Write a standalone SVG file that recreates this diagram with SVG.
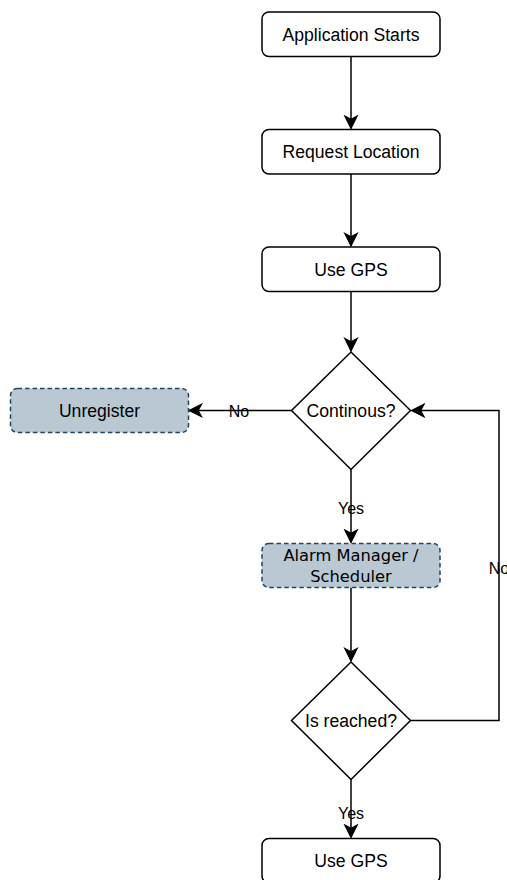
<svg xmlns="http://www.w3.org/2000/svg" width="507" height="880" viewBox="0 0 507 880">
<style>
.box{fill:#ffffff;stroke:#000000;stroke-width:1.5}
.alt{fill:#bac8d3;stroke:#23445d;stroke-width:1.5;stroke-dasharray:4.5 3}
.t{font-family:"Liberation Sans",Arial,sans-serif;font-size:17.6px;fill:#000;text-anchor:middle}
.d{font-family:"DejaVu Sans",sans-serif;font-size:16.3px;fill:#000;text-anchor:middle}
.lbl{font-family:"Liberation Sans",Arial,sans-serif;font-size:16px;fill:#000;text-anchor:middle}
.c{fill:none;stroke:#000;stroke-width:1.5}
</style>
<defs>
<marker id="arr" markerUnits="userSpaceOnUse" markerWidth="16" markerHeight="16" refX="12" refY="6" orient="auto" viewBox="0 0 14 12">
<path d="M12,6 L1,0.5 L4,6 L1,11.5 Z" fill="#000" stroke="#000" stroke-width="1"/>
</marker>
</defs>
<rect width="507" height="880" fill="#ffffff"/>
<g id="connectors">
<path class="c" d="M351,56.5 V128.5" marker-end="url(#arr)"/>
<path class="c" d="M351,174 V246" marker-end="url(#arr)"/>
<path class="c" d="M351,291.5 V351" marker-end="url(#arr)"/>
<path class="c" d="M291.5,410.5 H189" marker-end="url(#arr)"/>
<path class="c" d="M351,469.5 V542.5" marker-end="url(#arr)"/>
<path class="c" d="M351,587.5 V661" marker-end="url(#arr)"/>
<path class="c" d="M410.5,720.5 H499 V410.5 H411.5" marker-end="url(#arr)"/>
<path class="c" d="M351,779.5 V837.5" marker-end="url(#arr)"/>
<text class="lbl" x="239" y="416.5">No</text>
<text class="lbl" x="351" y="514">Yes</text>
<text class="lbl" x="499" y="574">No</text>
<text class="lbl" x="351" y="819">Yes</text>
</g>
<g id="app-starts">
<rect class="box" x="262" y="12" width="178" height="44.5" rx="7"/>
<text class="t" x="351" y="40.5">Application Starts</text>
</g>
<g id="request-location">
<rect class="box" x="262" y="129.5" width="178" height="44.5" rx="7"/>
<text class="t" x="351" y="158">Request Location</text>
</g>
<g id="use-gps-1">
<rect class="box" x="262" y="247" width="178" height="44.5" rx="7"/>
<text class="t" x="351" y="275.5">Use GPS</text>
</g>
<g id="continous">
<path class="box" d="M351,352 L410.5,410.5 L351,469.5 L291.5,410.5 Z"/>
<text class="t" x="351" y="416.5">Continous?</text>
</g>
<g id="unregister">
<rect class="alt" x="10.5" y="388.5" width="178" height="44" rx="7"/>
<text class="t" x="99.5" y="416.5">Unregister</text>
</g>
<g id="alarm-manager">
<rect class="alt" x="262" y="543.5" width="178" height="44" rx="7"/>
<text class="d" x="351" y="561">Alarm Manager /</text>
<text class="d" x="351" y="582">Scheduler</text>
</g>
<g id="is-reached">
<path class="box" d="M351,662 L410.5,720.5 L351,779.5 L291.5,720.5 Z"/>
<text class="t" x="351" y="726.5">Is reached?</text>
</g>
<g id="use-gps-2">
<rect class="box" x="262" y="838.5" width="178" height="44.5" rx="7"/>
<text class="t" x="351" y="867">Use GPS</text>
</g>
</svg>
